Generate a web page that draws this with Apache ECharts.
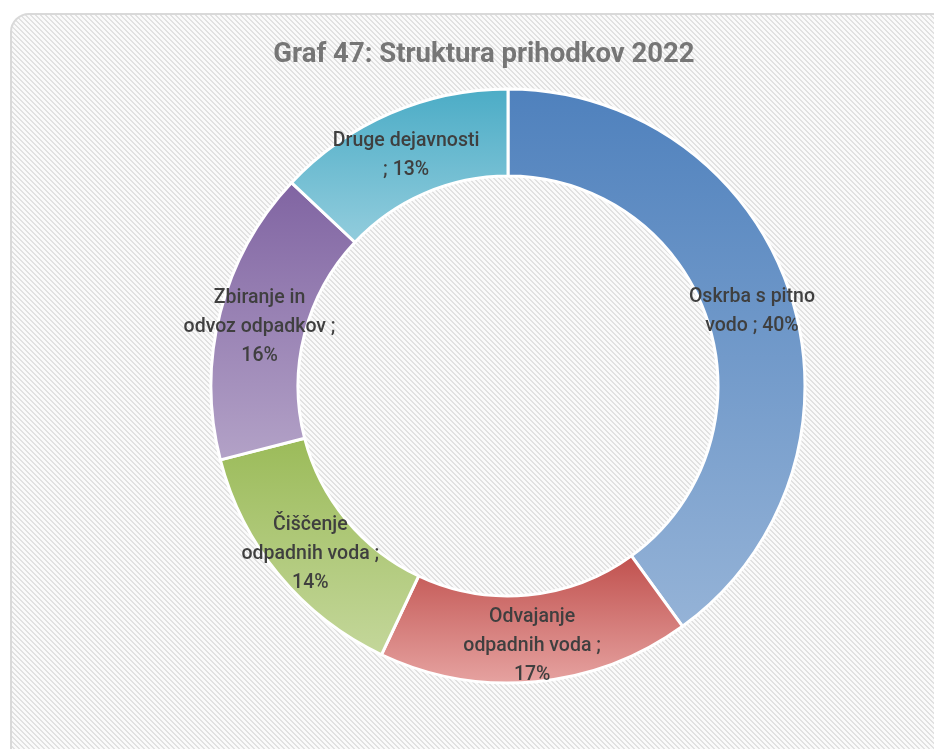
<!DOCTYPE html>
<html>
<head>
<meta charset="utf-8">
<script src="https://cdn.jsdelivr.net/npm/echarts@6/dist/echarts.min.js"></script>
<style>
  html, body { margin: 0; padding: 0; background: #ffffff; }
  #chart { width: 934px; height: 749px; }
</style>
</head>
<body>
<div id="chart"></div>
<script>
// Revenue structure 2022 (share in %)
const categories = [
  'Oskrba s pitno vodo',
  'Odvajanje odpadnih voda',
  'Čiščenje odpadnih voda',
  'Zbiranje in odvoz odpadkov',
  'Druge dejavnosti'
];
const values = [40, 17, 14, 16, 13];
// label text before the value, with the line breaks used in the ring
const labelHeads = [
  'Oskrba s pitno\nvodo ; ',
  'Odvajanje\nodpadnih voda ;\n',
  'Čiščenje\nodpadnih voda ;\n',
  'Zbiranje in\nodvoz odpadkov ;\n',
  'Druge dejavnosti\n; '
];
const topColors = ['#4f81bd', '#c0504d', '#9bbb59', '#8064a2', '#4bacc6'];
const bottomColors = ['#95b3d7', '#e6a3a1', '#c4d79b', '#b3a2c7', '#93cddd'];

// diagonal hatch used for the chart area background
function hatchPattern() {
  const n = 5;
  const c = document.createElement('canvas');
  c.width = n; c.height = n;
  const ctx = c.getContext('2d');
  const img = ctx.createImageData(n, n);
  for (let y = 0; y < n; y++) {
    for (let x = 0; x < n; x++) {
      const k = ((x - y) % n + n) % n;
      const v = (k === 0 || k === 1) ? 225 : 250;
      const i = (y * n + x) * 4;
      img.data[i] = v; img.data[i + 1] = v; img.data[i + 2] = v; img.data[i + 3] = 255;
    }
  }
  ctx.putImageData(img, 0, 0);
  return c;
}

const chart = echarts.init(document.getElementById('chart'), null, { renderer: 'canvas' });

const data = categories.map((name, i) => ({
  name: name,
  value: values[i],
  itemStyle: {
    color: new echarts.graphic.LinearGradient(0, 0, 0, 1, [
      { offset: 0, color: topColors[i] },
      { offset: 1, color: bottomColors[i] }
    ])
  },
  label: { formatter: labelHeads[i] + values[i] + '%' }
}));

chart.setOption({
  backgroundColor: '#ffffff',
  animation: false,
  graphic: [{
    type: 'rect',
    z: -10,
    silent: true,
    shape: { x: 11, y: 14, width: 960, height: 800, r: 18 },
    style: {
      fill: { image: hatchPattern(), repeat: 'repeat' },
      stroke: '#d9d9d9',
      lineWidth: 2
    }
  }],
  title: {
    text: 'Graf 47: Struktura prihodkov 2022',
    left: 479,
    textAlign: 'center',
    top: 36,
    textStyle: {
      fontFamily: 'Roboto',
      fontWeight: 'bold',
      fontSize: 27.5,
      color: '#767676'
    }
  },
  series: [{
    type: 'pie',
    center: [508, 386],
    radius: [210, 297],
    startAngle: 90,
    clockwise: true,
    avoidLabelOverlap: false,
    itemStyle: { borderColor: '#ffffff', borderWidth: 3 },
    label: {
      show: true,
      position: 'inside',
      offset: [0, 5],
      fontFamily: 'Roboto',
      fontWeight: 500,
      fontSize: 19.5,
      lineHeight: 29,
      color: '#3f3f3f',
      align: 'center'
    },
    labelLine: { show: false },
    data: data
  }]
});
</script>
</body>
</html>
